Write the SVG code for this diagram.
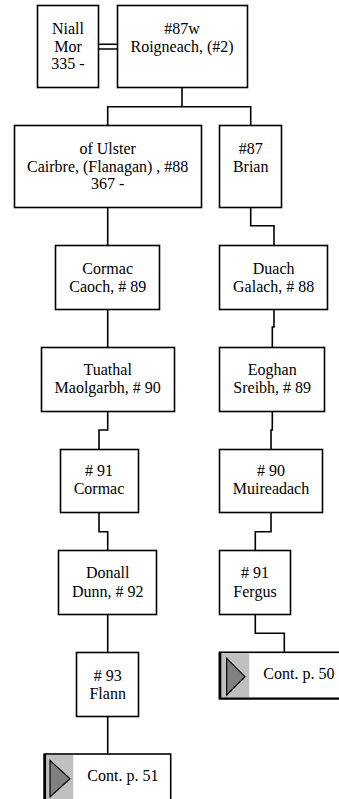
<svg xmlns="http://www.w3.org/2000/svg" width="339" height="799" viewBox="0 0 339 799">
<style>
.box{fill:#fff;stroke:#000;stroke-width:1.6}
.c{fill:none;stroke:#000;stroke-width:1.6}
text{font-family:'Liberation Serif', 'DejaVu Serif', serif;font-size:16px;fill:#000;text-anchor:middle}
.tl{text-anchor:start}
.gray{fill:#c0c0c0;stroke:none}
.tri{fill:#808080;stroke:#000;stroke-width:1.2}
</style>
<rect width="339" height="799" fill="#fff"/>
<g id="connectors">
<path class="c" d="M98.5,44.3 H117.5 M98.5,49 H117.5"/>
<path class="c" d="M182,87.5 V106.7 M107.7,125.5 V106.7 H250.7 V125.5"/>
<path class="c" d="M107.7,207.5 V245.5"/>
<path class="c" d="M107.7,309.5 V347.5"/>
<path class="c" d="M107.7,411.5 V430 H99 V449.5"/>
<path class="c" d="M99,512.5 V531.7 H107.7 V550.5"/>
<path class="c" d="M107.7,614.5 V652.5"/>
<path class="c" d="M107.7,716.5 V754"/>
<path class="c" d="M250.7,207.5 V225.7 H274 V245.5"/>
<path class="c" d="M274,309.5 V327 H272.3 V347.5"/>
<path class="c" d="M272.3,411.5 V430 H271 V449.5"/>
<path class="c" d="M271,512.5 V531.7 H255.3 V550.5"/>
<path class="c" d="M255.3,614.5 V633.3 H284.3 V652.5"/>
</g>
<g id="niall">
<rect class="box" x="37.5" y="5.5" width="61" height="82"/>
<text x="68" y="33.7">Niall</text>
<text x="68" y="51.7">Mor</text>
<text x="68" y="69.3">335 -</text>
</g>
<g id="roigneach">
<rect class="box" x="117.5" y="5.5" width="130" height="82"/>
<text x="182" y="33.7">#87w</text>
<text x="182" y="51.7">Roigneach, (#2)</text>
</g>
<g id="cairbre">
<rect class="box" x="14.5" y="125.5" width="187" height="82"/>
<text x="107.7" y="154">of Ulster</text>
<text x="107.7" y="171.7">Cairbre, (Flanagan) , #88</text>
<text x="107.7" y="189.3">367 -</text>
</g>
<g id="brian">
<rect class="box" x="219.5" y="125.5" width="62" height="82"/>
<text x="250.7" y="154">#87</text>
<text x="250.7" y="171.7">Brian</text>
</g>
<g id="cormac-caoch">
<rect class="box" x="55.5" y="245.5" width="104" height="64"/>
<text x="107.7" y="274">Cormac</text>
<text x="107.7" y="291.7">Caoch, # 89</text>
</g>
<g id="tuathal">
<rect class="box" x="41.5" y="347.5" width="133" height="64"/>
<text x="107.7" y="375">Tuathal</text>
<text x="107.7" y="393.3">Maolgarbh, # 90</text>
</g>
<g id="cormac91">
<rect class="box" x="60.5" y="449.5" width="78" height="63"/>
<text x="99" y="476"># 91</text>
<text x="99" y="494.3">Cormac</text>
</g>
<g id="donall">
<rect class="box" x="58.5" y="550.5" width="98" height="64"/>
<text x="107.7" y="578.3">Donall</text>
<text x="107.7" y="596.7">Dunn, # 92</text>
</g>
<g id="flann">
<rect class="box" x="76.5" y="652.5" width="62" height="64"/>
<text x="107.7" y="681"># 93</text>
<text x="107.7" y="699">Flann</text>
</g>
<g id="cont51">
<rect class="box" x="44.3" y="754" width="126.4" height="60"/>
<rect class="gray" x="45.3" y="755" width="28" height="58"/>
<line x1="44.8" y1="754" x2="44.8" y2="799" stroke="#000" stroke-width="2.6"/>
<polygon class="tri" points="50,760.5 70,778.8 50,797"/>
<text class="tl" x="87.3" y="781">Cont. p. 51</text>
</g>
<g id="duach">
<rect class="box" x="219.5" y="245.5" width="108" height="64"/>
<text x="273.7" y="274">Duach</text>
<text x="273.7" y="291.7">Galach, # 88</text>
</g>
<g id="eoghan">
<rect class="box" x="219.5" y="347.5" width="105" height="64"/>
<text x="272.2" y="375">Eoghan</text>
<text x="272.2" y="393.3">Sreibh, # 89</text>
</g>
<g id="muireadach">
<rect class="box" x="219.5" y="449.5" width="103" height="63"/>
<text x="271" y="476"># 90</text>
<text x="271" y="494.3">Muireadach</text>
</g>
<g id="fergus">
<rect class="box" x="219.5" y="550.5" width="71" height="64"/>
<text x="255" y="578.3"># 91</text>
<text x="255" y="596.7">Fergus</text>
</g>
<g id="cont50">
<rect class="box" x="219.5" y="652.3" width="130" height="46.4"/>
<rect class="gray" x="220.5" y="653.3" width="28.8" height="44.4"/>
<line x1="220" y1="652.3" x2="220" y2="699" stroke="#000" stroke-width="2.6"/>
<line x1="219" y1="698.5" x2="339" y2="698.5" stroke="#000" stroke-width="2"/>
<polygon class="tri" points="226.7,658.3 245,676.7 226.7,695"/>
<text class="tl" x="263.3" y="679.3">Cont. p. 50</text>
</g>
</svg>
